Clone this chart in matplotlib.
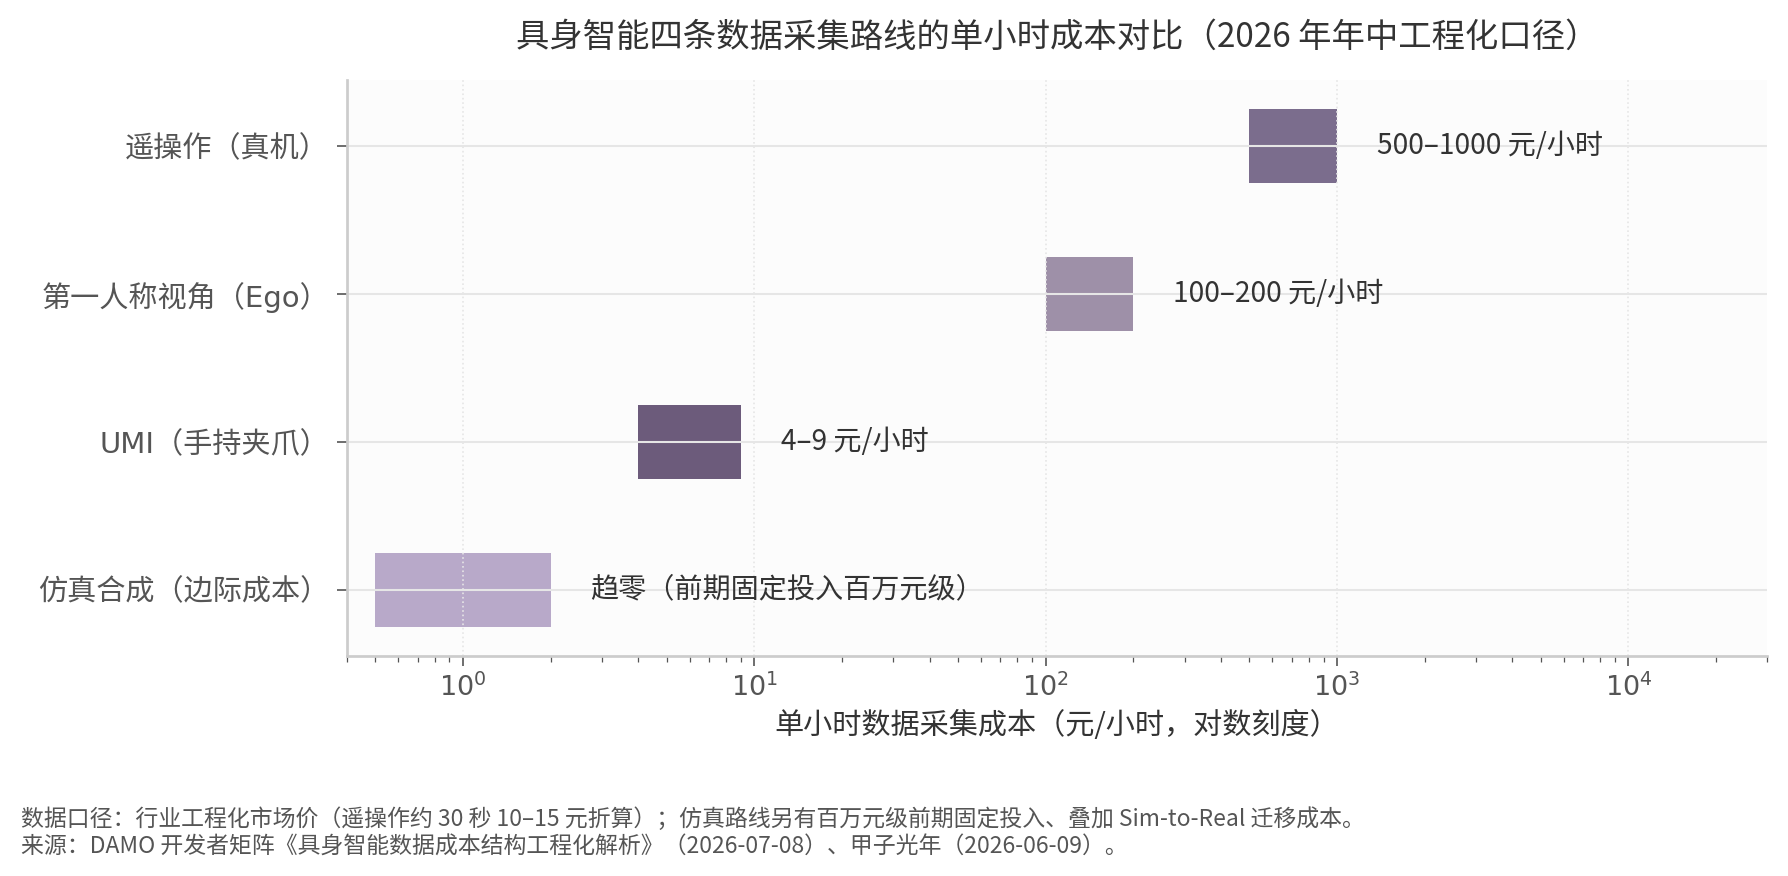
import numpy as np
import matplotlib
matplotlib.use('Agg')
import matplotlib.pyplot as plt

plt.rcParams['font.family'] = ['DejaVu Sans', 'Noto Sans CJK SC']
cjk = ['Noto Sans CJK SC', 'DejaVu Sans']

# routes, bottom to top
routes = ['仿真合成（边际成本）', 'UMI（手持夹爪）', '第一人称视角（Ego）', '遥操作（真机）']
cost_lo = [0.5, 4, 100, 500]
cost_hi = [2, 9, 200, 1000]
notes = ['趋零（前期固定投入百万元级）', '4–9 元/小时', '100–200 元/小时', '500–1000 元/小时']
colors = ['#b8a9c9', '#6c5b7b', '#9e90a8', '#7b6d8d']

title = '具身智能四条数据采集路线的单小时成本对比（2026 年年中工程化口径）'
xlabel = '单小时数据采集成本（元/小时，对数刻度）'
footnote = ('数据口径：行业工程化市场价（遥操作约 30 秒 10–15 元折算）；仿真路线另有百万元级前期固定投入、叠加 Sim-to-Real 迁移成本。\n'
            '来源：DAMO 开发者矩阵《具身智能数据成本结构工程化解析》（2026-07-08）、甲子光年（2026-06-09）。')

fig = plt.figure(figsize=(11.92, 5.84), dpi=150)
ax = fig.add_axes([0.194, 0.251, 0.7945, 0.658])
ax.set_facecolor('#fcfcfc')

y = np.arange(len(routes))
lo = np.array(cost_lo, dtype=float)
hi = np.array(cost_hi, dtype=float)
ax.barh(y, hi - lo, left=lo, height=0.5, color=colors, edgecolor='none')

for yi, h, t in zip(y, hi, notes):
    ax.text(h * 1.37, yi, t, va='center', ha='left', fontsize=13.5,
            color='#333333', family=cjk)

ax.set_xscale('log')
ax.set_xlim(0.4, 3e4)
ax.set_ylim(-0.45, 3.45)
ax.set_yticks(y)
ax.set_yticklabels(routes, fontsize=14, color='#555555')
ax.tick_params(axis='x', labelsize=13, labelcolor='#555555')
ax.tick_params(axis='both', which='major', length=5, color='#555555')
ax.tick_params(axis='x', which='minor', length=3, color='#555555')

ax.grid(axis='y', color='#e6e6e6', linewidth=1.0, linestyle='-')
ax.grid(axis='x', which='major', color='#e6e6e6', linewidth=0.8, linestyle=':')

for s in ['top', 'right']:
    ax.spines[s].set_visible(False)
for s in ['left', 'bottom']:
    ax.spines[s].set_color('#cccccc')
    ax.spines[s].set_linewidth(1.3)

ax.set_title(title, fontsize=16, color='#333333', family=cjk, pad=16)
ax.set_xlabel(xlabel, fontsize=14, color='#333333', family=cjk, labelpad=4)

fig.text(0.0115, 0.078, footnote, fontsize=11, color='#555555', family=cjk,
         va='top', ha='left', linespacing=1.25)

fig.savefig('out.png', dpi=150, facecolor='white')
